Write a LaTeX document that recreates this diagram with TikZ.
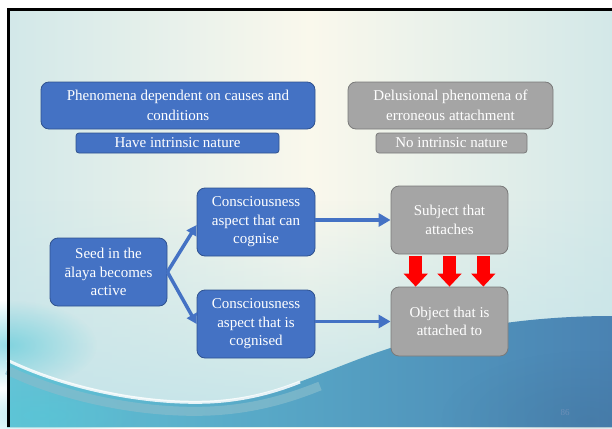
\documentclass[tikz,border=0pt]{standalone}
\usepackage{fontspec}
\setmainfont{Liberation Serif}
\usetikzlibrary{arrows.meta,calc,fadings}
\definecolor{ofblue}{HTML}{4472C4}
\definecolor{ofblueline}{HTML}{2F528F}
\definecolor{ofgray}{HTML}{A5A5A5}
\definecolor{ofgrayline}{HTML}{7A7A7A}
\definecolor{bgL}{HTML}{D2E8E9}
\definecolor{bgM}{HTML}{FAF8EC}
\definecolor{bgR}{HTML}{D3E8E8}
\definecolor{bgLow}{HTML}{C4E4E9}
\definecolor{waveL}{HTML}{62C4D6}
\definecolor{waveR}{HTML}{4A82B2}
\definecolor{bandC}{HTML}{86BCCC}
\definecolor{glowC}{HTML}{52C8D8}
\definecolor{pgnum}{HTML}{6D90B8}
\tikzfading[name=myglow, inner color=transparent!0, outer color=transparent!100]
\tikzset{
  boxbase/.style={rounded corners=8pt, line width=0.8pt, text=white, align=center,
    inner sep=0pt, font=\fontsize{15}{18.4}\selectfont},
  bluebox/.style={boxbase, fill=ofblue, draw=ofblueline},
  graybox/.style={boxbase, fill=ofgray, draw=ofgrayline},
  smalltag/.style={rounded corners=3pt, minimum height=20pt},
  bluearrow/.style={draw=ofblue, line width=3.5pt, -{Triangle[length=12pt,width=13pt]}},
  seedarrow/.style={draw=ofblue, line width=3.5pt, -{Triangle[length=10pt,width=11pt]}},
  redarrow/.style={draw=red, line width=12.7pt, -{Triangle[length=13pt,width=23.5pt]}}
}
\begin{document}
\begin{tikzpicture}[x=1pt,y=-1pt]
\useasboundingbox (0,0) rectangle (612,428);
% ---- background ----
\shade[left color=bgL, right color=bgR, middle color=bgM] (7,9) rectangle (612,427);
\fill[bgLow, path fading=north] (7,200) rectangle (612,427);
\fill[glowC, path fading=myglow, opacity=0.6] (7,345) ellipse (90pt and 45pt);
% dark wave
\shade[left color=waveL, right color=waveR]
  (7,360) .. controls (60,386) and (140,405) .. (210,402)
  .. controls (280,398) and (330,366) .. (400,345)
  .. controls (470,325) and (540,316) .. (612,316)
  -- (612,427) -- (7,427) -- cycle;
\fill[waveR!70!black, opacity=0.18, path fading=myglow] (590,420) ellipse (150pt and 70pt);
\fill[glowC, opacity=0.4, path fading=myglow] (40,415) ellipse (100pt and 30pt);
% band under the stripe
\draw[bandC, line width=9pt, opacity=0.7]
  (7,370) .. controls (60,396) and (140,414) .. (210,411)
  .. controls (255,409) and (290,398) .. (320,386);
% white stripe
\draw[white, line width=3pt, opacity=0.85]
  (7,360) .. controls (60,386) and (140,405) .. (210,402)
  .. controls (250,400) and (280,390) .. (300,382);
% frame
\draw[black, line width=3pt] (8.5,427) -- (8.5,9.7) -- (612,9.7);
\node[text=pgnum, font=\fontsize{9}{10}\selectfont] (pg) at (565,413) {86};
% ---- boxes ----
\node[bluebox, minimum width=274pt, minimum height=47pt, font=\fontsize{15}{20}\selectfont] (dep) at (178,105.5)
  {Phenomena dependent on causes and\\conditions};
\node[bluebox, smalltag, minimum width=203pt] (have) at (177.5,143) {Have intrinsic nature};
\node[graybox, minimum width=205pt, minimum height=47pt, font=\fontsize{15}{20}\selectfont] (del) at (450.5,105.5)
  {Delusional phenomena of\\erroneous attachment};
\node[graybox, smalltag, minimum width=151pt] (no) at (451.5,143) {No intrinsic nature};
\node[bluebox, minimum width=117pt, minimum height=68pt] (seed) at (108.5,272)
  {Seed in the\\ālaya becomes\\active};
\node[bluebox, minimum width=118pt, minimum height=68pt] (c1) at (256,222)
  {Consciousness\\aspect that can\\cognise};
\node[bluebox, minimum width=118pt, minimum height=68pt] (c2) at (256,324)
  {Consciousness\\aspect that is\\cognised};
\node[graybox, minimum width=117pt, minimum height=68pt] (subj) at (449.5,220)
  {Subject that\\attaches};
\node[graybox, minimum width=117pt, minimum height=69pt] (obj) at (449.5,321.5)
  {Object that is\\attached to};
% ---- connectors ----
\draw[seedarrow] (seed.east) -- ($(c1.west)+(0,3)$);
\draw[seedarrow] (seed.east) -- (c2.west);
\draw[bluearrow] (c1.east |- subj.west) -- (subj.west);
\draw[bluearrow] (c2.east |- obj.west) -- (obj.west);
\foreach \dx in {-33.8,0,33.8}{
  \draw[redarrow] ($(subj.south)+(\dx,2)$) -- ($(obj.north)+(\dx,0)$);
}
\end{tikzpicture}
\end{document}
